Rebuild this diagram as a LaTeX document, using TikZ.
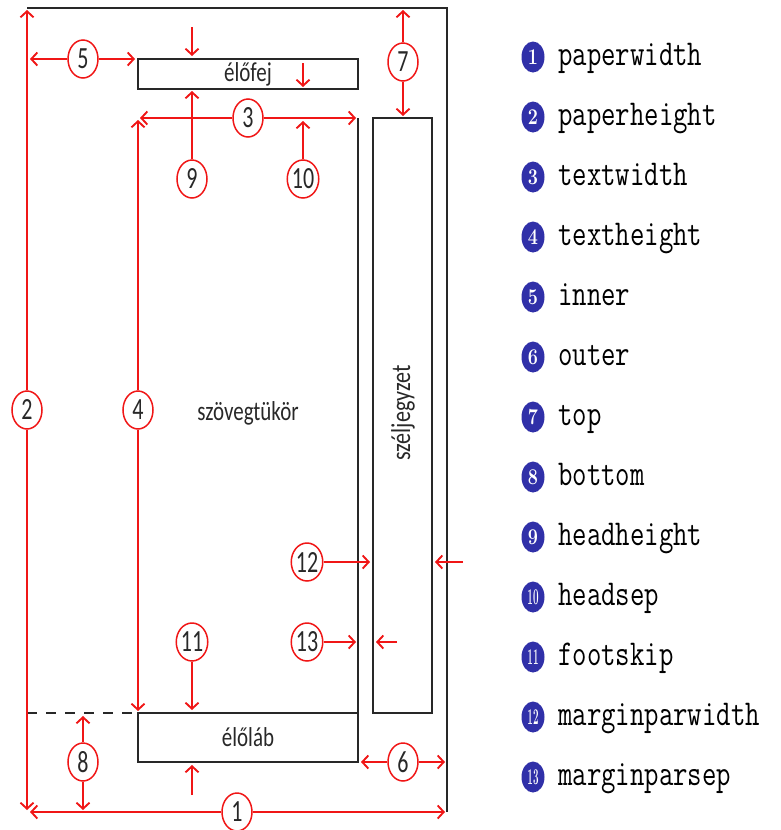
\documentclass[tikz,border=0pt]{standalone}
\usepackage{fontspec}
\usepackage{graphicx}
\usetikzlibrary{arrows.meta,shapes.geometric}
\newfontfamily\labelfont{Carlito}
\definecolor{mred}{RGB}{240,22,22}
\definecolor{mblue}{RGB}{48,48,168}
\definecolor{mgray}{RGB}{40,40,40}
\newcommand{\vstr}[2][1.35]{\scalebox{1}[#1]{#2}}
\begin{document}
\begin{tikzpicture}[x=1pt,y=-1pt,
  dim/.style={draw=mred,line width=1.9pt,-{Straight Barb[length=6pt,width=13pt]}},
  num/.style={ellipse,draw=mred,line width=1.5pt,fill=white,minimum width=30pt,minimum height=38pt,inner sep=0pt,
    text=mgray,font=\labelfont\fontsize{22}{22}\selectfont},
  frame/.style={draw=mgray,line width=1.2pt},
  boxlabel/.style={font=\labelfont\fontsize{21}{21}\selectfont,text=mgray},
  bullet/.style={ellipse,fill=mblue,minimum width=23pt,minimum height=31pt,inner sep=0pt,text=white,
    font=\rmfamily\bfseries\fontsize{18}{18}\selectfont},
  legend/.style={anchor=base west,inner sep=0pt,font=\ttfamily\fontsize{28}{28}\selectfont\addfontfeature{FakeBold=0.6}}]
\useasboundingbox (0,0) rectangle (780,830);
% page outline (top and right)
\coordinate (ptl) at (27,8);
\coordinate (ptr) at (447,8);
\coordinate (pbr) at (447,812);
\draw[frame] (ptl) -- (ptr) -- (pbr);
% header, footer, margin note boxes
\node[frame,boxlabel,minimum width=220pt,minimum height=30pt,inner sep=0pt,outer sep=0pt] (hdr) at (248,74) {\vstr[1.3]{élőfej}};
\node[frame,boxlabel,minimum width=220pt,minimum height=49pt,inner sep=0pt,outer sep=0pt] (ftr) at (248,737.5) {\raisebox{-2pt}{\vstr[1.3]{élőláb}}};
\node[frame,minimum width=59pt,minimum height=595pt,inner sep=0pt,outer sep=0pt] (mpar) at (402.5,415.5) {};
\node[boxlabel,rotate=90] (mparlbl) at (403,413) {\scalebox{1.05}[1.3]{széljegyzet}};
\node[boxlabel] (body) at (248,413) {\vstr[1.3]{szövegtükör}};
% text body right edge
\coordinate (btr) at (358,118);
\draw[frame] (btr) -- (btr |- ftr.north);
% dashed bottom line
\coordinate (dsh) at (27,713);
\draw[frame,dashed,dash pattern=on 10pt off 9pt] (dsh) -- (dsh -| ftr.west);
% number circles
\node[num] (n1) at (237,812) {\vstr[1.4]{1}};
\node[num] (n2) at (27,410) {\vstr[1.4]{2}};
\node[num] (n3) at (248,118) {\vstr[1.4]{3}};
\node[num] (n4) at (138,410) {\vstr[1.4]{4}};
\node[num] (n5) at (83,59) {\vstr[1.4]{5}};
\node[num] (n6) at (403,762) {\vstr[1.4]{6}};
\node[num] (n7) at (403,62) {\vstr[1.4]{7}};
\node[num] (n8) at (83,762) {\vstr[1.4]{8}};
\node[num] (n9) at (192,179) {\vstr[1.4]{9}};
\node[num] (n10) at (303,179) {\vstr[1.4]{10}};
\node[num] (n11) at (192,642) {\vstr[1.4]{11}};
\node[num] (n12) at (307,562) {\vstr[1.4]{12}};
\node[num] (n13) at (307,642) {\vstr[1.4]{13}};
% arrow end points
\coordinate (e1l) at (30,812);   \coordinate (e1r) at (445,812);
\coordinate (e2u) at (27,10);    \coordinate (e2d) at (27,810);
\coordinate (e3l) at (140,118);  \coordinate (e3r) at (356,118);
\coordinate (e4u) at (138,120);  \coordinate (e4d) at (138,711);
\coordinate (e5l) at (30,59);    \coordinate (e5r) at (135,59);
\coordinate (e6l) at (361,762);  \coordinate (e6r) at (445,762);
\coordinate (e7u) at (403,10);   \coordinate (e7d) at (403,116);
\coordinate (e8u) at (83,716);   \coordinate (e8d) at (83,810);
\coordinate (e9u) at (192,91);   \coordinate (s9) at (192,27);   \coordinate (e9d) at (192,56);
\coordinate (e10u) at (303,121); \coordinate (s10) at (303,63);  \coordinate (e10d) at (303,87);
\coordinate (e11d) at (192,710); \coordinate (s11) at (192,795); \coordinate (e11u) at (192,765);
\coordinate (e12r) at (370,562); \coordinate (s12) at (463,562); \coordinate (e12l) at (435,562);
\coordinate (e13r) at (356,642); \coordinate (s13) at (397,642); \coordinate (e13l) at (376,642);
% dimension arrows
\draw[dim] (n1) -- (e1l); \draw[dim] (n1) -- (e1r);
\draw[dim] (n2) -- (e2u); \draw[dim] (n2) -- (e2d);
\draw[dim] (n3) -- (e3l); \draw[dim] (n3) -- (e3r);
\draw[dim] (n4) -- (e4u); \draw[dim] (n4) -- (e4d);
\draw[dim] (n5) -- (e5l); \draw[dim] (n5) -- (e5r);
\draw[dim] (n6) -- (e6l); \draw[dim] (n6) -- (e6r);
\draw[dim] (n7) -- (e7u); \draw[dim] (n7) -- (e7d);
\draw[dim] (n8) -- (e8u); \draw[dim] (n8) -- (e8d);
\draw[dim] (n9) -- (e9u); \draw[dim] (s9) -- (e9d);
\draw[dim] (n10) -- (e10u); \draw[dim] (s10) -- (e10d);
\draw[dim] (n11) -- (e11d); \draw[dim] (s11) -- (e11u);
\draw[dim] (n12) -- (e12r); \draw[dim] (s12) -- (e12l);
\draw[dim] (n13) -- (e13r); \draw[dim] (s13) -- (e13l);
% legend
\foreach \i/\t in {1/paperwidth,2/paperheight,3/textwidth,4/textheight,5/inner,6/outer,7/top,8/bottom,
  9/headheight,10/headsep,11/footskip,12/marginparwidth,13/marginparsep}{
  \node[bullet] (b\i) at (533,{57+60*(\i-1)}) {\ifnum\i>9 \scalebox{0.55}[1.25]{\i}\else\scalebox{1}[1.25]{\i}\fi};
  \node[legend] (t\i) at (558,{65+60*(\i-1)}) {\vstr[1.3]{\t}};
}
\end{tikzpicture}
\end{document}
